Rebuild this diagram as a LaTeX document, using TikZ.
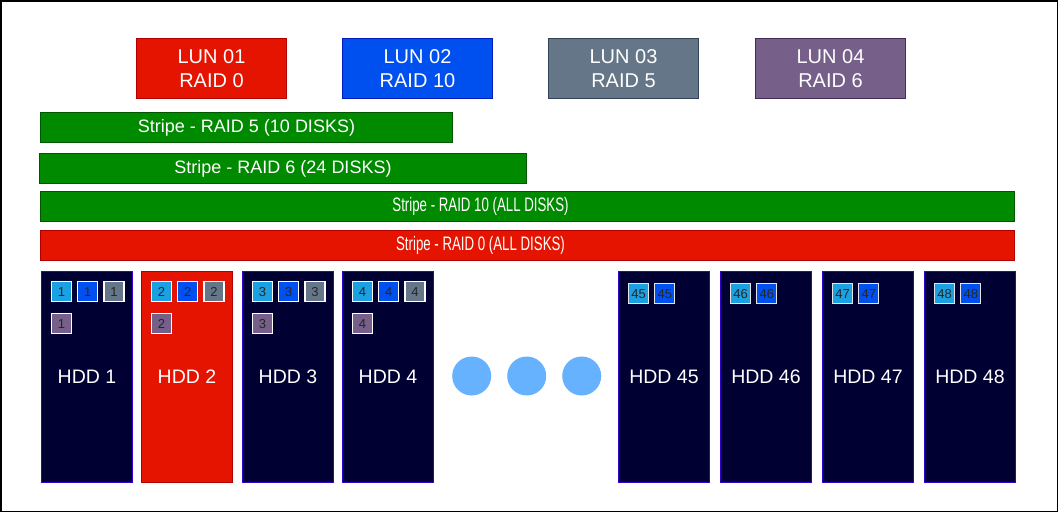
\documentclass[tikz,border=0pt]{standalone}
\usepackage{fontspec}
\setmainfont{Liberation Sans}
\newfontfamily\narrowfont[FakeStretch=0.68]{Liberation Sans}
\usetikzlibrary{positioning}
\definecolor{LunRed}{HTML}{E51400}
\definecolor{LunRedLine}{HTML}{B20000}
\definecolor{LunBlue}{HTML}{0050EF}
\definecolor{LunBlueLine}{HTML}{001DBC}
\definecolor{LunGray}{HTML}{647687}
\definecolor{LunGrayLine}{HTML}{314354}
\definecolor{LunPurple}{HTML}{76608A}
\definecolor{LunPurpleLine}{HTML}{432D57}
\definecolor{StripeGreen}{HTML}{008A00}
\definecolor{StripeGreenLine}{HTML}{005700}
\definecolor{DiskNavy}{HTML}{000033}
\definecolor{DiskLine}{HTML}{3700CC}
\definecolor{ChipCyan}{HTML}{1BA1E2}
\definecolor{DotBlue}{HTML}{66B2FF}

\tikzset{
  lunbox/.style={anchor=north west, minimum width=150pt, minimum height=60pt,
    inner sep=0pt, line width=1pt, text=white, align=center,
    font=\fontsize{20}{23.5}\selectfont},
  stripe/.style={anchor=north west, minimum height=30pt, inner sep=0pt,
    line width=1pt, text=white, font=\fontsize{18}{20}\selectfont},
  stripenarrow/.style={text=white, font=\narrowfont\fontsize{19.5}{20}\selectfont},
  disk/.style={anchor=north west, minimum width=91pt, minimum height=211pt,
    inner sep=0pt, line width=1pt, text=white, font=\fontsize{19.5}{22}\selectfont},
  chip/.style={draw=white, line width=1.2pt, minimum size=20pt, inner sep=0pt,
    text=black!85, font=\fontsize{13}{15}\selectfont},
  dot/.style={circle, fill=DotBlue, minimum size=39pt, inner sep=0pt}
}

\begin{document}
\begin{tikzpicture}[x=1pt, y=-1pt]

\useasboundingbox (0,0) rectangle (1058,512);

% outer frame
\draw[line width=1.5pt] (0.75,0.75) rectangle (1057.25,511.25);

% LUN boxes
\foreach \n/\x/\col/\raid in {01/136/LunRed/0, 02/342/LunBlue/10,
                              03/548/LunGray/5, 04/755/LunPurple/6}
  \node[lunbox, fill=\col, draw=\col Line] (lun\n) at (\x,38) {LUN \n\\RAID \raid};

% stripes
\node[stripe, fill=StripeGreen, draw=StripeGreenLine, minimum width=412pt]
  (stripeFive) at (40,112) {Stripe - RAID 5 (10 DISKS)};
\node[stripe, fill=StripeGreen, draw=StripeGreenLine, minimum width=487pt]
  (stripeSix) at (39,153) {Stripe - RAID 6 (24 DISKS)};
\node[stripe, fill=StripeGreen, draw=StripeGreenLine, minimum width=974pt,
  label={[stripenarrow, xshift=-47pt]center:Stripe - RAID 10 (ALL DISKS)}]
  (stripeTen) at (40,191) {};
\node[stripe, fill=LunRed, draw=LunRedLine, minimum width=974pt,
  label={[stripenarrow, xshift=-47pt]center:Stripe - RAID 0 (ALL DISKS)}]
  (stripeZero) at (40,230) {};

% disks with four chips
\foreach \n/\x/\col/\line in {1/41/DiskNavy/DiskLine, 2/141/LunRed/LunRedLine,
                              3/242/DiskNavy/DiskLine, 4/342/DiskNavy/DiskLine}
{
  \node[disk, fill=\col, draw=\line] (hdd\n) at (\x,271) {HDD \n};
  \node[chip, fill=ChipCyan, below right=10pt and 10pt of hdd\n.north west]
    (chip\n a) {\n};
  \node[chip, fill=LunBlue, right=5pt of chip\n a] (chip\n b) {\n};
  \node[chip, fill=LunGray, right=5pt of chip\n b] (chip\n c) {\n};
  \node[chip, fill=LunPurple, below=11pt of chip\n a] (chip\n d) {\n};
}

% disks with two chips
\foreach \n/\x in {45/618, 46/720, 47/822, 48/924}
{
  \node[disk, fill=DiskNavy, draw=DiskLine] (hdd\n) at (\x,271) {HDD \n};
  \node[chip, draw=white!80!gray, fill=ChipCyan,
    below right=12pt and 10pt of hdd\n.north west] (chip\n a) {\n};
  \node[chip, draw=white!80!gray, fill=LunBlue, right=5pt of chip\n a] (chip\n b) {\n};
}

% dots
\foreach \i/\x in {1/471.7, 2/526.7, 3/581.7}
  \node[dot] (dot\i) at (\x,376) {};

\end{tikzpicture}
\end{document}
